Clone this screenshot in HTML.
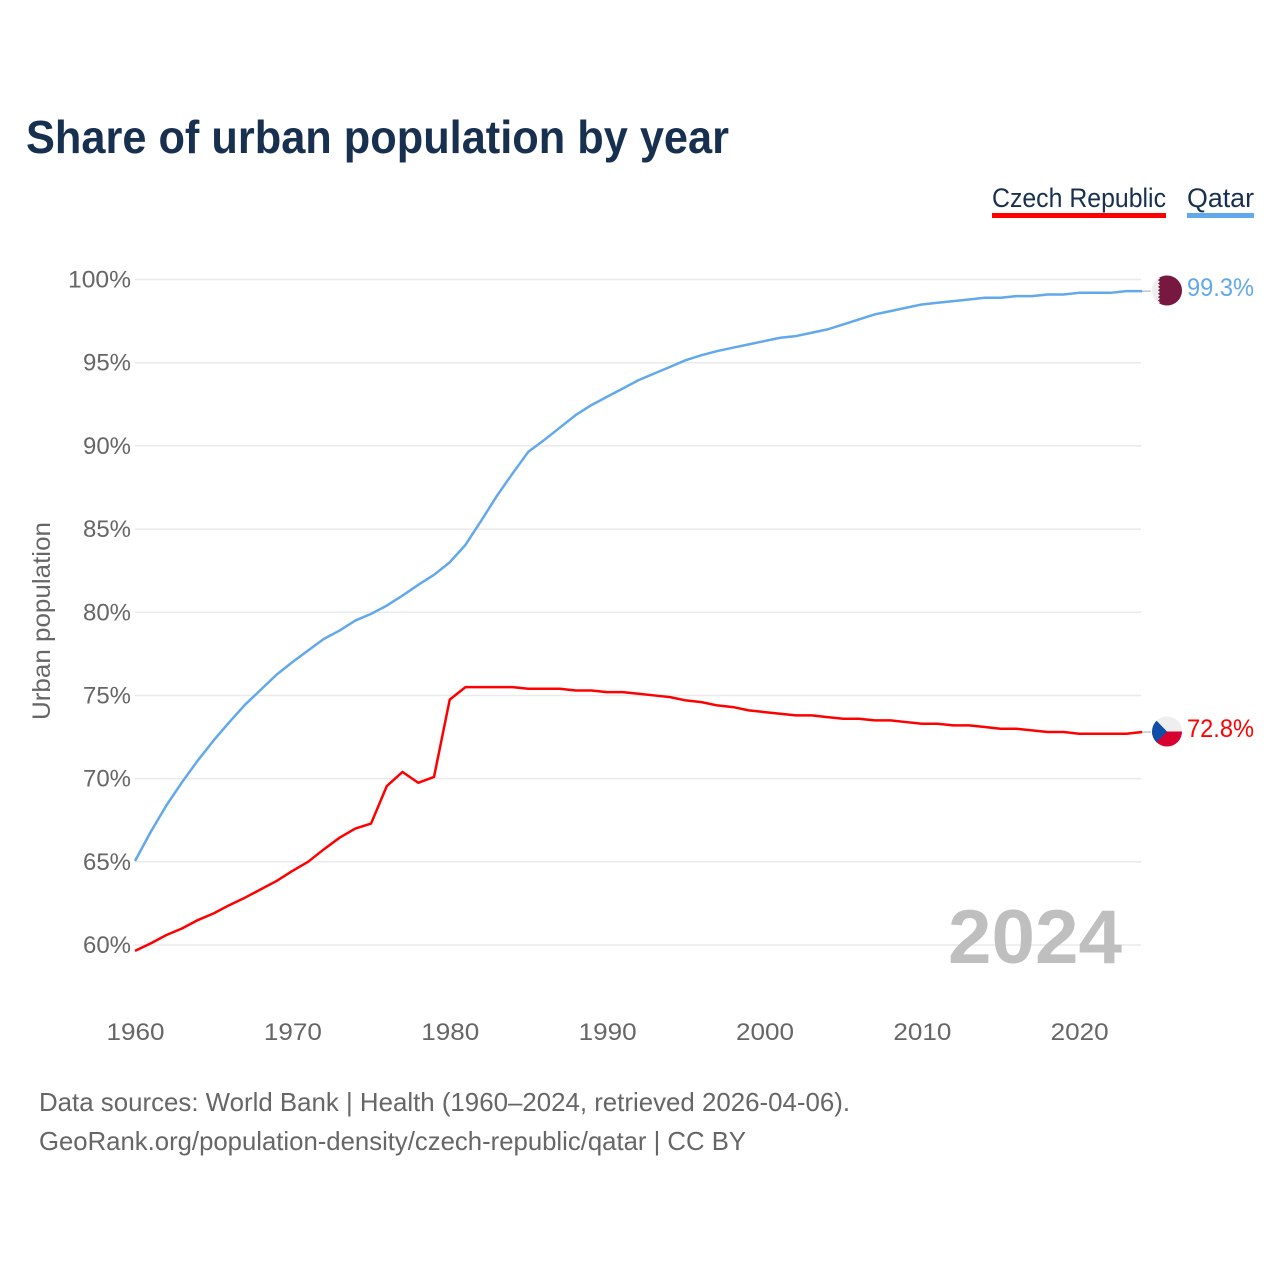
<!DOCTYPE html>
<html lang="en">
<head>
<meta charset="utf-8">
<title>Share of urban population by year</title>
<style>
html,body{margin:0;padding:0;background:#fff;width:1280px;height:1280px;overflow:hidden}
svg{display:block}
text{font-family:"Liberation Sans",sans-serif}
</style>
</head>
<body>
<svg id="chart" xmlns="http://www.w3.org/2000/svg" width="1280" height="1280" viewBox="0 0 1280 1280">
  <rect width="1280" height="1280" fill="#fff"/>
  <text x="26" y="153" font-size="46" font-weight="700" fill="#18304f" textLength="703" lengthAdjust="spacingAndGlyphs">Share of urban population by year</text>

  <g>
    <g>
      <text x="992" y="207" font-size="27" fill="#18304f" textLength="174" lengthAdjust="spacingAndGlyphs">Czech Republic</text>
      <rect x="992" y="213" width="174" height="5" fill="#ff0000"/>
    </g>
    <g>
      <text x="1187" y="207" font-size="27" fill="#18304f" textLength="67" lengthAdjust="spacingAndGlyphs">Qatar</text>
      <rect x="1187" y="213" width="67" height="5" fill="#62a8ec"/>
    </g>
  </g>

  <g id="grid"></g>
  <g id="yticks"></g>
  <g id="xticks"></g>
  <text transform="translate(50,621) rotate(-90)" text-anchor="middle" font-size="25" fill="#666" textLength="198" lengthAdjust="spacingAndGlyphs">Urban population</text>

  <text x="948" y="963" font-size="76" font-weight="700" fill="#bfbfbf" textLength="174" lengthAdjust="spacingAndGlyphs">2024</text>

  <g id="series"></g>

  <defs>
    <clipPath id="clip-qa"><circle cx="1167" cy="290.5" r="15"/></clipPath>
    <clipPath id="clip-cz"><circle cx="1167" cy="731.5" r="15"/></clipPath>
  </defs>
  <g clip-path="url(#clip-qa)">
    <rect x="1152" y="275" width="30" height="31" fill="#eeeeee"/>
    <polygon fill="#76183f" points="1182,275 1160,275 1158,276.7 1160,278.4 1158,280.1 1160,281.8 1158,283.5 1160,285.2 1158,286.9 1160,288.6 1158,290.3 1160,292 1158,293.7 1160,295.4 1158,297.1 1160,298.8 1158,300.5 1160,302.2 1158,303.9 1160,306 1182,306"/>
  </g>
  <g clip-path="url(#clip-cz)">
    <rect x="1152" y="716" width="30" height="16" fill="#eeeeee"/>
    <rect x="1152" y="731.5" width="30" height="16" fill="#d7002f"/>
    <polygon fill="#0f4fa8" points="1152,716 1167,731.5 1152,747"/>
  </g>
  <text id="value-qa" x="1187" y="296" font-size="25" fill="#62a8ec" textLength="67" lengthAdjust="spacingAndGlyphs">99.3%</text>
  <text id="value-cz" x="1187" y="737" font-size="25" fill="#ff0000" textLength="67" lengthAdjust="spacingAndGlyphs">72.8%</text>

  <text x="39" y="1111" font-size="26" fill="#666" textLength="811" lengthAdjust="spacingAndGlyphs">Data sources: World Bank | Health (1960–2024, retrieved 2026-04-06).</text>
  <text x="39" y="1150" font-size="26" fill="#666" textLength="707" lengthAdjust="spacingAndGlyphs">GeoRank.org/population-density/czech-republic/qatar | CC BY</text>
</svg>
<script>
const years = [1960,1961,1962,1963,1964,1965,1966,1967,1968,1969,1970,1971,1972,1973,1974,1975,1976,1977,1978,1979,1980,1981,1982,1983,1984,1985,1986,1987,1988,1989,1990,1991,1992,1993,1994,1995,1996,1997,1998,1999,2000,2001,2002,2003,2004,2005,2006,2007,2008,2009,2010,2011,2012,2013,2014,2015,2016,2017,2018,2019,2020,2021,2022,2023,2024];
const qatarValues = [65.05,66.8,68.4,69.8,71.1,72.3,73.4,74.45,75.35,76.25,77.0,77.7,78.4,78.9,79.5,79.9,80.4,81.0,81.65,82.25,83.0,84.05,85.5,87.0,88.35,89.65,90.35,91.1,91.85,92.45,92.95,93.45,93.95,94.35,94.75,95.15,95.45,95.7,95.9,96.1,96.3,96.5,96.6,96.8,97.0,97.3,97.6,97.9,98.1,98.3,98.5,98.6,98.7,98.8,98.9,98.9,99.0,99.0,99.1,99.1,99.2,99.2,99.2,99.3,99.3];
const czechValues = [59.65,60.1,60.6,61.0,61.5,61.9,62.4,62.85,63.35,63.85,64.45,65.0,65.75,66.45,67.0,67.3,69.55,70.4,69.75,70.1,74.75,75.5,75.5,75.5,75.5,75.4,75.4,75.4,75.3,75.3,75.2,75.2,75.1,75.0,74.9,74.7,74.6,74.4,74.3,74.1,74.0,73.9,73.8,73.8,73.7,73.6,73.6,73.5,73.5,73.4,73.3,73.3,73.2,73.2,73.1,73.0,73.0,72.9,72.8,72.8,72.7,72.7,72.7,72.7,72.8];
const yTickValues = [60,65,70,75,80,85,90,95,100];
const xTickValues = [1960,1970,1980,1990,2000,2010,2020];

const NS = 'http://www.w3.org/2000/svg';
function xScale(year){ return 135 + (year - 1960) * (1079.2 - 135) / 60; }
function yScale(v){ return 945 - (v - 60) * (945 - 279.5) / 40; }
function make(tag, attrs, parent){
  const el = document.createElementNS(NS, tag);
  for (const k in attrs) el.setAttribute(k, attrs[k]);
  parent.appendChild(el);
  return el;
}
const grid = document.getElementById('grid');
const yticks = document.getElementById('yticks');
const xticks = document.getElementById('xticks');
const series = document.getElementById('series');

yTickValues.forEach(function(v){
  const line = make('line', {x1:135, x2:1141, y1:yScale(v), y2:yScale(v), stroke:'#eaeaea', 'stroke-width':1.5}, grid);
  
  
  const label = make('text', {x:131, y:yScale(v)+8, 'text-anchor':'end', 'font-size':24.5, fill:'#666'}, yticks);
  
  
  label.setAttribute('textLength', v === 100 ? 63 : 48);
  label.setAttribute('lengthAdjust', 'spacingAndGlyphs');
  label.textContent = v + '%';
});
xTickValues.forEach(function(y){
  const label = make('text', {x:xScale(y)+0.5, y:1040, 'text-anchor':'middle', 'font-size':24.5, fill:'#666'}, xticks);
  
  
  label.setAttribute('textLength', 58);
  label.setAttribute('lengthAdjust', 'spacingAndGlyphs');
  label.textContent = y;
});

function pathFor(values){
  return values.map(function(v, i){
    return (i ? 'L' : 'M') + xScale(years[i]).toFixed(2) + ' ' + yScale(v).toFixed(2);
  }).join(' ');
}
const leaderQa = make('line', {x1:xScale(2024), x2:1151, y1:yScale(qatarValues[qatarValues.length-1]), y2:yScale(qatarValues[qatarValues.length-1]), stroke:'#aaa', 'stroke-width':1}, series);


const leaderCz = make('line', {x1:xScale(2024), x2:1151, y1:yScale(czechValues[czechValues.length-1]), y2:yScale(czechValues[czechValues.length-1]), stroke:'#aaa', 'stroke-width':1}, series);


const lineQa = make('path', {d:pathFor(qatarValues), fill:'none', stroke:'#62a8ec', 'stroke-width':2.5, 'stroke-linejoin':'round'}, series);


const lineCz = make('path', {d:pathFor(czechValues), fill:'none', stroke:'#ff0000', 'stroke-width':2.5, 'stroke-linejoin':'round'}, series);


document.getElementById('value-qa').textContent = qatarValues[qatarValues.length-1].toFixed(1) + '%';
document.getElementById('value-cz').textContent = czechValues[czechValues.length-1].toFixed(1) + '%';
</script>
</body>
</html>
